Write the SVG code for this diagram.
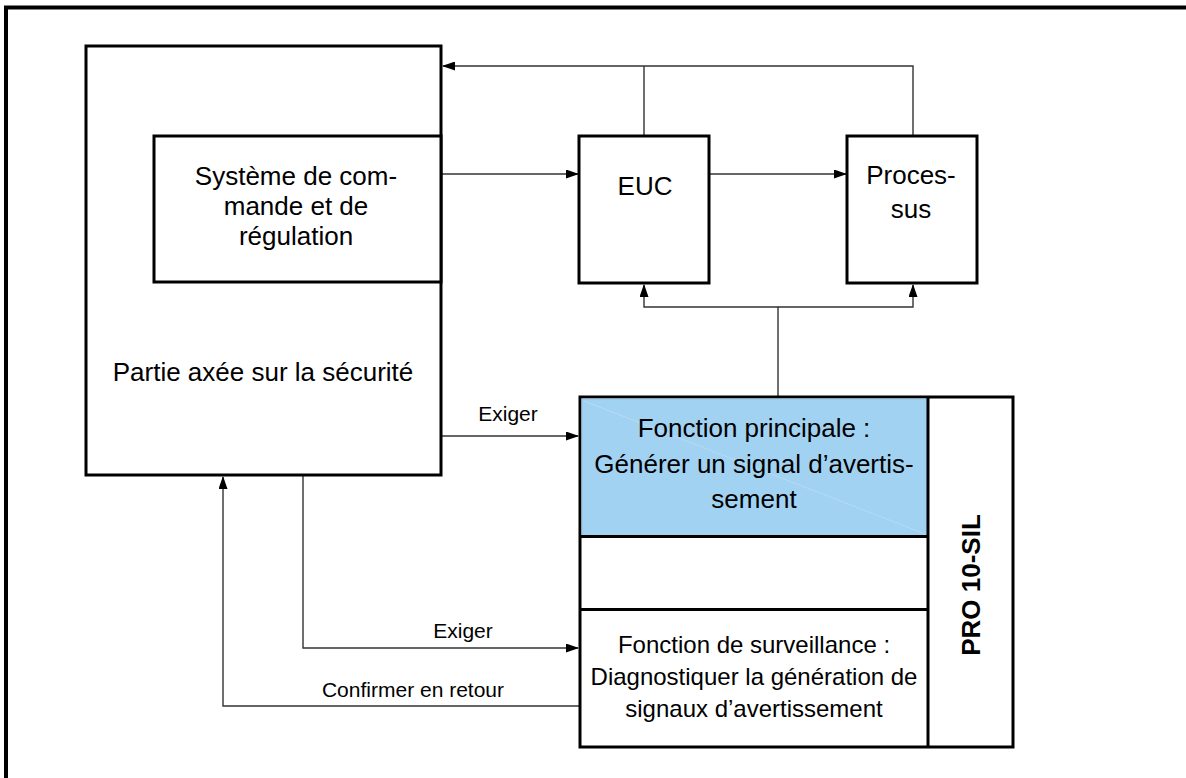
<svg xmlns="http://www.w3.org/2000/svg" width="1186" height="778" viewBox="0 0 1186 778">
<style>
.box{fill:#fff;stroke:#000;stroke-width:3}
.ln{fill:none;stroke:#333;stroke-width:1.4}
.t{font-family:"Liberation Sans",Arial,sans-serif;fill:#000;text-anchor:middle}
.t26{font-size:26px}
.t24{font-size:24px}
.t21{font-size:21px}
.b{font-weight:bold}
</style>
<defs>
<marker id="ah" markerUnits="userSpaceOnUse" markerWidth="13" markerHeight="9" refX="12" refY="4.5" orient="auto">
<path d="M0,0 L13,4.5 L0,9 z" fill="#000"/>
</marker>
</defs>
<rect width="1186" height="778" fill="#fff"/>
<g id="frame">
<path d="M6,778 V7.5 H1186" fill="none" stroke="#000" stroke-width="4"/>
</g>
<g id="connectors">
<path class="ln" d="M644,136 V66 M913,136 V66 H443" marker-end="url(#ah)"/>
<path class="ln" d="M441,174 H578" marker-end="url(#ah)"/>
<path class="ln" d="M709,174 H846" marker-end="url(#ah)"/>
<path class="ln" d="M778,397 V307 H644 V285" marker-end="url(#ah)"/>
<path class="ln" d="M778,307 H913 V285" marker-end="url(#ah)"/>
<path class="ln" d="M441,436 H578" marker-end="url(#ah)"/>
<path class="ln" d="M303,475 V648 H578" marker-end="url(#ah)"/>
<path class="ln" d="M580,706 H223 V477" marker-end="url(#ah)"/>
<path class="ln" d="M754,536 V607" marker-end="url(#ah)"/>
<text class="t t21" x="508" y="421">Exiger</text>
<text class="t t21" x="463" y="638">Exiger</text>
<text class="t t21" x="413" y="697">Confirmer en retour</text>
</g>
<g id="safety">
<rect class="box" x="86" y="46" width="355" height="429"/>
<text class="t t26" x="263" y="381">Partie axée sur la sécurité</text>
</g>
<g id="control">
<rect class="box" x="154" y="136" width="287" height="146"/>
<text class="t t26" x="296" y="185">Système de com-</text>
<text class="t t26" x="296" y="215">mande et de</text>
<text class="t t26" x="296" y="245">régulation</text>
</g>
<g id="euc">
<rect class="box" x="579" y="136" width="130" height="147"/>
<text class="t t26" x="645" y="195">EUC</text>
</g>
<g id="process">
<rect class="box" x="847" y="136" width="130" height="147"/>
<text class="t t26" x="911" y="184">Proces-</text>
<text class="t t26" x="911" y="218">sus</text>
</g>
<g id="pro10sil">
<rect class="box" x="580" y="397" width="433" height="350"/>
<rect x="582" y="399" width="345" height="137" fill="#A2D2F2" stroke="#8fc3e6" stroke-width="1"/>
<line x1="584" y1="401" x2="925" y2="534" stroke="#fff" stroke-opacity="0.25" stroke-width="0.8"/>
<path d="M928,397 V747 M580,536.5 H928 M580,609.5 H928" fill="none" stroke="#000" stroke-width="3"/>
<text class="t t26" x="754" y="437">Fonction principale :</text>
<text class="t t26" x="754" y="473">Générer un signal d’avertis-</text>
<text class="t t26" x="754" y="508">sement</text>
<text class="t t24" x="754" y="653">Fonction de surveillance :</text>
<text class="t t24" x="754" y="685">Diagnostiquer la génération de</text>
<text class="t t24" x="754" y="717">signaux d’avertissement</text>
<text class="t t26 b" transform="translate(980,585) rotate(-90)">PRO 10-SIL</text>
</g>
</svg>
